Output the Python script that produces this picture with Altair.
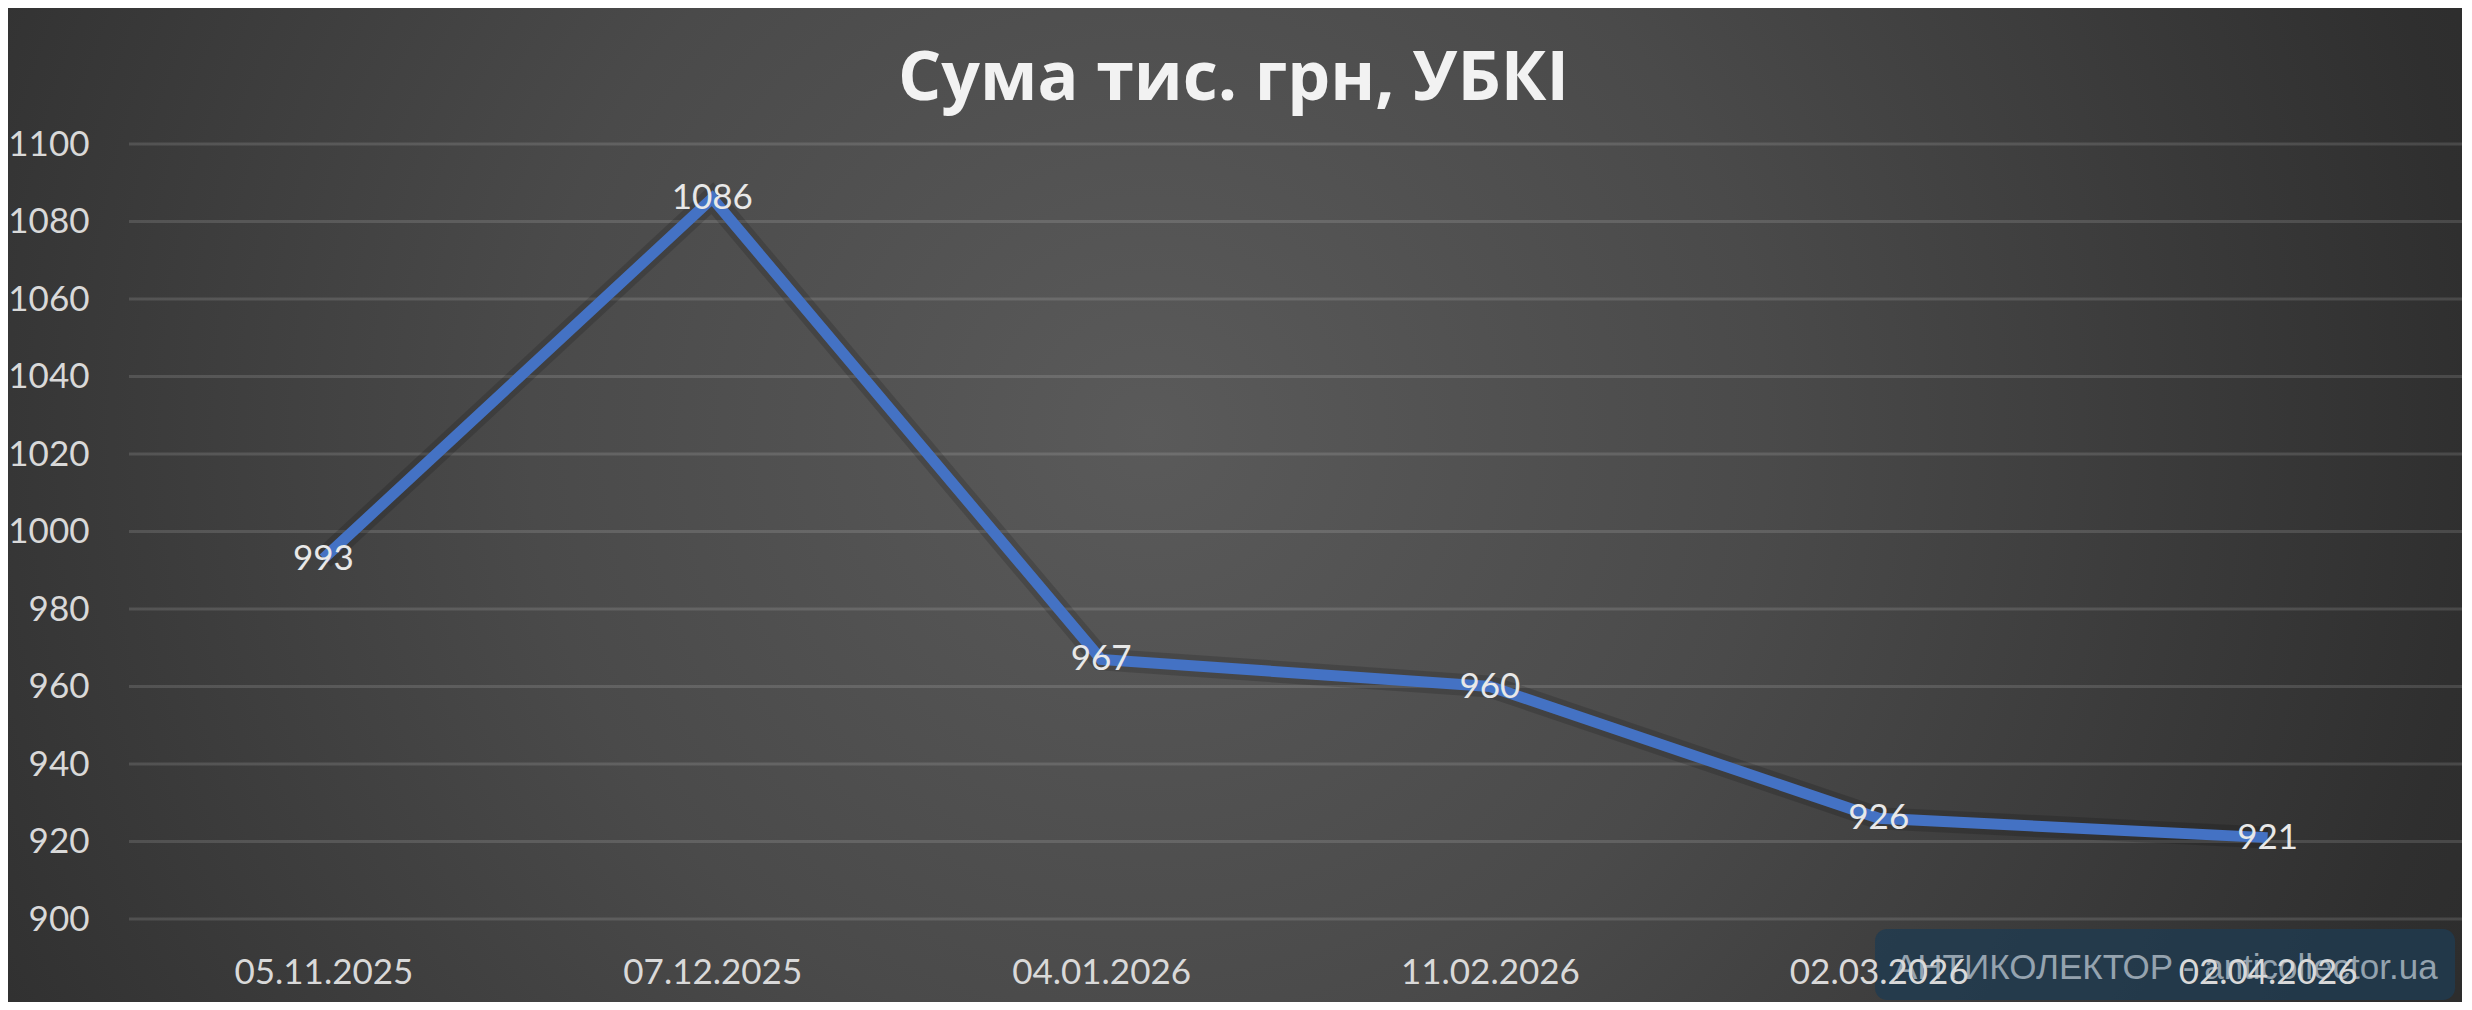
import altair as alt
import pandas as pd

# ---- data ----
dates = ["05.11.2025", "07.12.2025", "04.01.2026", "11.02.2026", "02.03.2026", "02.04.2026"]
values = [993, 1086, 967, 960, 926, 921]
y_ticks = [900, 920, 940, 960, 980, 1000, 1020, 1040, 1060, 1080, 1100]
title_text = "Сума тис. грн, УБКІ"
watermark_text = "АНТИКОЛЕКТОР - anticollector.ua"

df = pd.DataFrame({"date": dates, "value": values})
grid_df = pd.DataFrame({"value": y_ticks})
one = pd.DataFrame({"a": [0]})

W, H = 2333, 775
PL, PT, PR, PB = 121, 136, 0, 83

label_color = "#d9d9d9"
font = "Lato"

x_enc = alt.X(
    "date:N", sort=dates,
    axis=alt.Axis(labelAngle=0, labelFontSize=35, labelColor=label_color, labelFont=font,
                  labelPadding=36, domain=False, ticks=False, title=None, zindex=1, grid=False),
)
y_scale = alt.Scale(domain=[900, 1100], nice=False, zero=False)
y_enc = alt.Y(
    "value:Q", scale=y_scale,
    axis=alt.Axis(values=y_ticks, format="d", labelFontSize=35, labelColor=label_color, labelFont=font,
                  labelPadding=40, domain=False, ticks=False, title=None, grid=False, zindex=1),
)

gradient = alt.RadialGradient(
    gradient="radial",
    x1=0.465, y1=0.47, r1=0, x2=0.465, y2=0.47, r2=0.72,
    stops=[
        alt.GradientStop(offset=0, color="#5a5a5a"),
        alt.GradientStop(offset=0.35, color="#4a4a4a"),
        alt.GradientStop(offset=0.75, color="#2f2f2f"),
        alt.GradientStop(offset=1, color="#262626"),
    ],
)

bg = alt.Chart(one).mark_rect(fill=gradient).encode(
    x=alt.value(-PL), x2=alt.value(W + PR), y=alt.value(-PT), y2=alt.value(H + PB)
)

grid = alt.Chart(grid_df).mark_rule(color="#ffffff", opacity=0.13, strokeWidth=3).encode(y=y_enc)

shadow = alt.Chart(df).mark_line(color="#000000", opacity=0.15, strokeWidth=22).encode(x=x_enc, y=y_enc)
line = alt.Chart(df).mark_line(color="#4472C4", strokeWidth=11, strokeJoin="miter").encode(x=x_enc, y=y_enc)

labels = alt.Chart(df).mark_text(
    fontSize=35, font=font, color="#e8e8e8", align="center", baseline="middle"
).encode(x=x_enc, y=y_enc, text=alt.Text("value:Q"))

wm_box = alt.Chart(one).mark_rect(
    fill="#1f3b50", opacity=0.8, cornerRadius=12
).encode(x=alt.value(1746), x2=alt.value(2326), y=alt.value(785), y2=alt.value(856))

wm_text = alt.Chart(one).mark_text(
    align="left", baseline="alphabetic", font="Liberation Sans", fontSize=35,
    color="#a9b6c1", opacity=0.85
).encode(x=alt.value(1765), y=alt.value(835), text=alt.value(watermark_text))

chart = alt.layer(bg, grid, shadow, line, labels, wm_box, wm_text).properties(
    width=W, height=H,
    padding={"left": PL, "top": PT, "right": PR, "bottom": PB},
    autosize=alt.AutoSizeParams(type="none"),
    title=alt.TitleParams(
        title_text, fontSize=68, font="Open Sans", fontWeight="bold", color="#f2f2f2",
        anchor="middle", frame="group", baseline="alphabetic", offset=-160, dx=-62, zindex=1,
    ),
    background="#2b2b2b",
).configure_view(stroke=None)

chart.save("out.html", embed_options={"renderer": "svg", "actions": False})
